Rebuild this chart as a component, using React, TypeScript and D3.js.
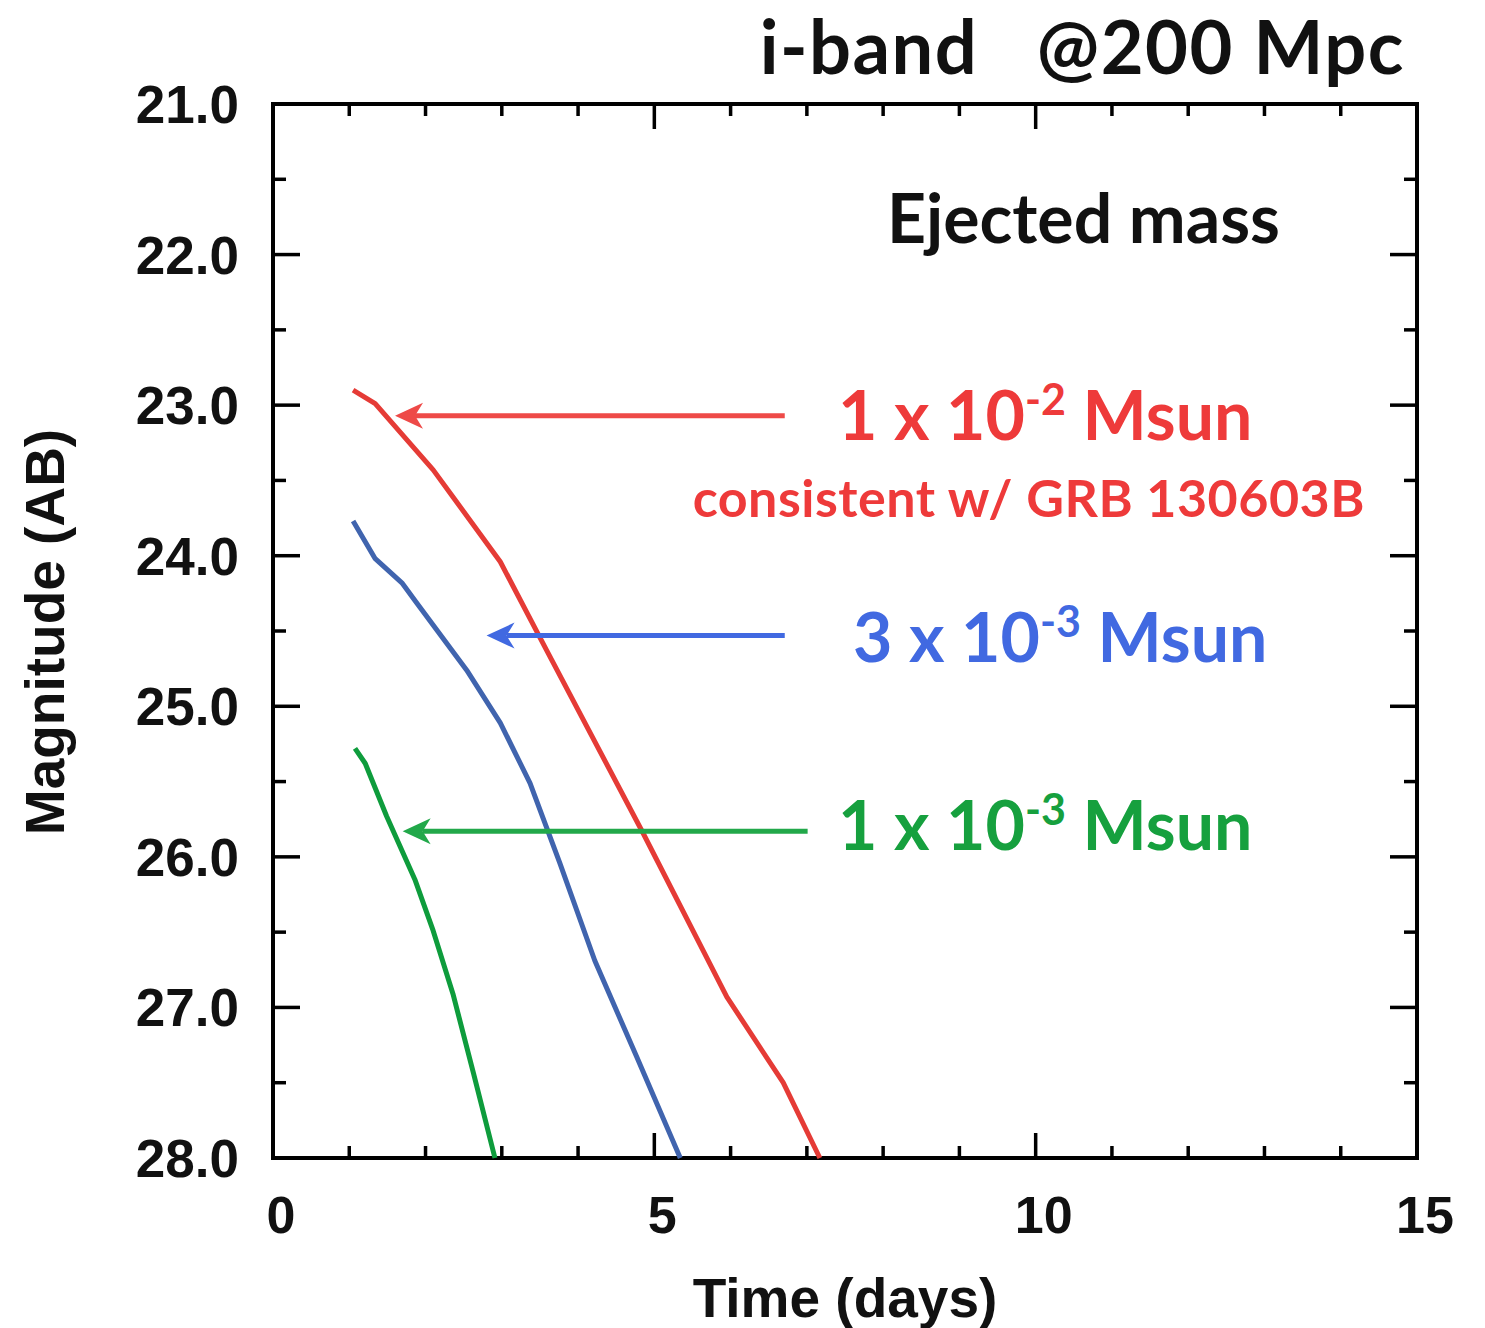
import React from "react";
import * as d3 from "d3";

const redT = [1.05, 1.34, 2.10, 2.36, 2.98, 3.59, 4.85, 5.95, 6.69, 7.17];
const redM = [22.90, 22.99, 23.43, 23.61, 24.04, 24.63, 25.84, 26.93, 27.50, 28.0];
const blueT = [1.05, 1.34, 1.69, 1.88, 2.54, 2.98, 3.37, 3.76, 4.22, 4.77, 5.34];
const blueM = [23.77, 24.02, 24.18, 24.31, 24.76, 25.11, 25.51, 26.04, 26.69, 27.33, 28.0];
const greenT = [1.075, 1.21, 1.49, 1.86, 2.10, 2.36, 2.63, 2.91];
const greenM = [25.28, 25.38, 25.73, 26.15, 26.49, 26.91, 27.44, 28.0];

const xTickLabels = [0, 5, 10, 15];
const yTickLabels = [21, 22, 23, 24, 25, 26, 27, 28];

// arrows: [from t, to t, magnitude]
const arrowRed = [6.71, 1.6, 23.07];
const arrowBlue = [6.71, 2.8, 24.53];
const arrowGreen = [7.01, 1.7, 25.83];

const W = 1485, H = 1328;
const L = 273, R = 1417, T = 104, B = 1158;

export default function App() {
  const x = d3.scaleLinear().domain([0, 15]).range([L, R]);
  const y = d3.scaleLinear().domain([21, 28]).range([T, B]);
  const line = d3.line<[number, number]>().x(d => x(d[0])).y(d => y(d[1])).curve(d3.curveLinear);
  const mk = (ts: number[], ms: number[]) => ts.map((t, i) => [t, ms[i]] as [number, number]);

  const labelFont = "'Liberation Sans', Arial, sans-serif";
  const calFont = "Lato, 'Open Sans', sans-serif";

  const xMinor = d3.range(0, 16, 1);
  const yMinor = d3.range(21, 28.01, 0.5);

  const arrow = (a: number[], color: string) => {
    const x1 = x(a[0]), x2 = x(a[1]), yy = y(a[2]);
    const hl = 28, hw = 13, notch = 8;
    return (
      <g>
        <line x1={x1} y1={yy} x2={x2 + hl - notch} y2={yy} stroke={color} strokeWidth={5} />
        <path d={`M${x2},${yy} L${x2 + hl},${yy - hw} L${x2 + hl - notch},${yy} L${x2 + hl},${yy + hw} Z`} fill={color} />
      </g>
    );
  };

  return (
    <svg width={W} height={H} style={{ position: "absolute", left: 0, top: 0 }}>
      <rect width={W} height={H} fill="white" />
      {/* ticks */}
      {xMinor.map(v => {
        const len = v % 5 === 0 ? 25 : 12;
        return (
          <g key={"xt" + v}>
            <line x1={x(v)} x2={x(v)} y1={B} y2={B - len} stroke="black" strokeWidth={3.5} />
            <line x1={x(v)} x2={x(v)} y1={T} y2={T + len} stroke="black" strokeWidth={3.5} />
          </g>
        );
      })}
      {yMinor.map(v => {
        const len = Math.abs(v - Math.round(v)) < 1e-6 ? 27 : 13;
        return (
          <g key={"yt" + v}>
            <line x1={L} x2={L + len} y1={y(v)} y2={y(v)} stroke="black" strokeWidth={3.5} />
            <line x1={R} x2={R - len} y1={y(v)} y2={y(v)} stroke="black" strokeWidth={3.5} />
          </g>
        );
      })}
      <rect x={L} y={T} width={R - L} height={B - T} fill="none" stroke="black" strokeWidth={4} />

      {/* tick labels */}
      {yTickLabels.map(v => (
        <text key={"yl" + v} x={L - 34} y={y(v) + 19} textAnchor="end" fontFamily={labelFont} fontWeight="bold" fontSize={53} fill="#111">
          {v.toFixed(1)}
        </text>
      ))}
      {xTickLabels.map(v => (
        <text key={"xl" + v} x={x(v) + 8} y={1233} textAnchor="middle" fontFamily={labelFont} fontWeight="bold" fontSize={52} fill="#111">
          {v}
        </text>
      ))}
      <text x={845} y={1317} textAnchor="middle" fontFamily={labelFont} fontWeight="bold" fontSize={55} fill="#111">Time (days)</text>
      <text transform={`translate(64,632) rotate(-90)`} textAnchor="middle" fontFamily={labelFont} fontWeight="bold" fontSize={55} fill="#111">Magnitude (AB)</text>

      {/* curves */}
      <path d={line(mk(redT, redM)) || ""} fill="none" stroke="#E53B36" strokeWidth={5} strokeLinejoin="round" />
      <path d={line(mk(blueT, blueM)) || ""} fill="none" stroke="#4064AE" strokeWidth={5} strokeLinejoin="round" />
      <path d={line(mk(greenT, greenM)) || ""} fill="none" stroke="#0E9C3C" strokeWidth={5} strokeLinejoin="round" />

      {arrow(arrowRed, "#EE4A48")}
      {arrow(arrowBlue, "#4169E1")}
      {arrow(arrowGreen, "#22A84A")}

      {/* annotations */}
      <text x={1405} y={74} textAnchor="end" fontFamily={calFont} fontWeight="bold" fontSize={74} letterSpacing={1.5} fill="#111" xmlSpace="preserve">i-band   @200 Mpc</text>
      <text x={1280} y={243} textAnchor="end" fontFamily={calFont} fontWeight="bold" fontSize={68} fill="#111">Ejected mass</text>

      <text x={838} y={440} fontFamily={calFont} fontWeight="bold" fontSize={68} fill="#EE3A3A">
        1 x 10<tspan dy={-25} fontSize={43}>-2</tspan><tspan dy={25}> Msun</tspan>
      </text>
      <text x={1365} y={517} textAnchor="end" fontFamily={calFont} fontWeight="bold" fontSize={52} letterSpacing={0.5} fill="#EE3A3A">consistent w/ GRB 130603B</text>
      <text x={853} y={662} fontFamily={calFont} fontWeight="bold" fontSize={68} fill="#4169E1">
        3 x 10<tspan dy={-25} fontSize={43}>-3</tspan><tspan dy={25}> Msun</tspan>
      </text>
      <text x={838} y={850} fontFamily={calFont} fontWeight="bold" fontSize={68} fill="#16A03E">
        1 x 10<tspan dy={-25} fontSize={43}>-3</tspan><tspan dy={25}> Msun</tspan>
      </text>
    </svg>
  );
}
